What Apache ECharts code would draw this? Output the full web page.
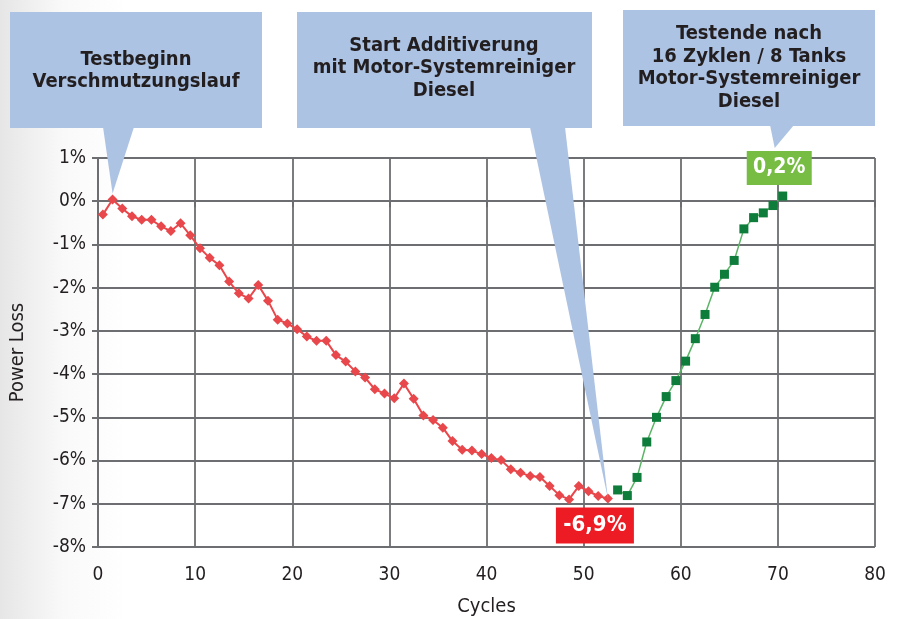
<!DOCTYPE html>
<html><head><meta charset="utf-8">
<script src="https://cdn.jsdelivr.net/npm/echarts@6/dist/echarts.min.js"></script>
<style>html,body{margin:0;padding:0;background:#fff}#c{width:899px;height:619px}</style>
</head><body><div id="c"></div>
<script>
// ---- data ----
const redCycles = [0.5,1.5,2.5,3.5,4.5,5.5,6.5,7.5,8.5,9.5,10.5,11.5,12.5,13.5,14.5,15.5,16.5,17.5,18.5,19.5,20.5,21.5,22.5,23.5,24.5,25.5,26.5,27.5,28.5,29.5,30.5,31.5,32.5,33.5,34.5,35.5,36.5,37.5,38.5,39.5,40.5,41.5,42.5,43.5,44.5,45.5,46.5,47.5,48.5,49.5,50.5,51.5,52.5];
const redLoss = [-0.31,0.04,-0.17,-0.35,-0.43,-0.43,-0.58,-0.69,-0.51,-0.79,-1.09,-1.31,-1.48,-1.86,-2.13,-2.25,-1.94,-2.30,-2.74,-2.83,-2.96,-3.13,-3.23,-3.23,-3.56,-3.71,-3.94,-4.08,-4.35,-4.45,-4.56,-4.22,-4.57,-4.96,-5.06,-5.24,-5.55,-5.75,-5.77,-5.85,-5.94,-5.99,-6.20,-6.28,-6.36,-6.38,-6.59,-6.80,-6.90,-6.59,-6.71,-6.82,-6.88];
const greenCycles = [53.5,54.5,55.5,56.5,57.5,58.5,59.5,60.5,61.5,62.5,63.5,64.5,65.5,66.5,67.5,68.5,69.5,70.5];
const greenLoss = [-6.68,-6.81,-6.39,-5.57,-5.00,-4.52,-4.15,-3.70,-3.18,-2.62,-1.99,-1.69,-1.37,-0.64,-0.38,-0.27,-0.10,0.12];
const xTitle = 'Cycles';
const yTitle = 'Power Loss';
const callout1 = 'Testbeginn\nVerschmutzungslauf';
const callout2 = 'Start Additiverung\nmit Motor-Systemreiniger\nDiesel';
const callout3 = 'Testende nach\n16 Zyklen / 8 Tanks\nMotor-Systemreiniger\nDiesel';
const minLabel = '-6,9%';
const endLabel = '0,2%';

// ---- chart ----
const FONT = '"DejaVu Sans Condensed", "Roboto", "DejaVu Sans", sans-serif';
const GRAY = '#6d6e71';
const INK = '#231f20';
const chart = echarts.init(document.getElementById('c'));
const zip = (xs, ys) => xs.map((x, i) => [x, ys[i]]);

chart.setOption({
  animation: false,
  backgroundColor: {type:'linear', x:0, y:0, x2:1, y2:0,
    colorStops:[{offset:0,color:'#e6e6e6'},{offset:0.07,color:'#f9f9f9'},{offset:0.14,color:'#ffffff'},{offset:1,color:'#ffffff'}]},
  grid: {left: 98, right: 24, top: 158, bottom: 72, containLabel: false, outerBoundsMode: 'none'},
  xAxis: {
    type: 'value', min: 0, max: 80, interval: 10,
    name: xTitle, nameLocation: 'middle', nameGap: 50,
    nameTextStyle: {fontSize: 20, color: INK, fontFamily: FONT},
    axisLine: {show: true, lineStyle: {color: GRAY, width: 2}},
    axisTick: {show: true, length: 6, lineStyle: {color: GRAY, width: 2}},
    axisLabel: {fontSize: 19, color: INK, margin: 19, fontFamily: FONT},
    splitLine: {show: true, lineStyle: {color: GRAY, width: 1.8}}
  },
  yAxis: {
    type: 'value', min: -8, max: 1, interval: 1,
    name: yTitle, nameLocation: 'middle', nameGap: 70, nameRotate: 90,
    nameTextStyle: {fontSize: 20, color: INK, fontFamily: FONT},
    axisLine: {show: true, onZero: false, lineStyle: {color: GRAY, width: 2}},
    axisTick: {show: true, length: 6, lineStyle: {color: GRAY, width: 2}},
    axisLabel: {fontSize: 19, color: INK, margin: 12, fontFamily: FONT, formatter: v => v + '%'},
    splitLine: {show: true, lineStyle: {color: GRAY, width: 1.8}}
  },
  series: [
    {type: 'line', data: zip(redCycles, redLoss), symbol: 'diamond', symbolSize: 10,
     lineStyle: {color: '#e8474b', width: 2}, itemStyle: {color: '#e8474b'}, z: 3},
    {type: 'line', data: zip(greenCycles, greenLoss), symbol: 'rect', symbolSize: 9,
     lineStyle: {color: '#5cb567', width: 1.5}, itemStyle: {color: '#0e7d3b'}, z: 3}
  ]
});

// ---- annotations anchored on data points ----
const px = (x, y) => chart.convertToPixel({gridIndex: 0}, [x, y]);
const pStart = px(redCycles[1], redLoss[1]);
const pMin = px(redCycles[redCycles.length - 1], redLoss[redLoss.length - 1]);
const pEnd = px(greenCycles[greenCycles.length - 1], greenLoss[greenLoss.length - 1]);
const BLUE = '#adc3e4';
const boxText = (cx, cy, txt) => ({type: 'text', x: cx, y: cy, z: 20,
  style: {text: txt, fill: INK, fontSize: 20, fontWeight: 'bold', fontFamily: FONT,
          lineHeight: 22.5, align: 'center', verticalAlign: 'middle'}});
const rect = (x, y, w, h, color) => ({type: 'rect', z: 10, shape: {x, y, width: w, height: h}, style: {fill: color}});
const poly = (pts, color) => ({type: 'polygon', z: 10, shape: {points: pts}, style: {fill: color}});

// label boxes
const redBox = {x: pMin[0] - 52, y: pMin[1] + 9, w: 78, h: 36};
const grnBox = {x: pEnd[0] - 36, y: pEnd[1] - 45, w: 65, h: 34};

chart.setOption({
  graphic: [
    rect(10, 12, 252, 116, BLUE),
    poly([[103, 127], [134, 127], [pStart[0], pStart[1] - 6]], BLUE),
    boxText(136, 71, callout1),

    rect(297, 12, 295, 116, BLUE),
    poly([[530, 127], [565, 127], [pMin[0], pMin[1]]], BLUE),
    boxText(444, 68, callout2),

    rect(623, 10, 252, 116, BLUE),
    poly([[770, 125], [794, 125], [grnBox.x + 28, grnBox.y - 3]], BLUE),
    boxText(749, 68, callout3),

    rect(redBox.x, redBox.y, redBox.w, redBox.h, '#ed1c24'),
    {type: 'text', z: 21, x: redBox.x + redBox.w / 2, y: redBox.y + redBox.h / 2,
     style: {text: minLabel, fill: '#fff', fontSize: 22, fontWeight: 'bold', fontFamily: FONT, align: 'center', verticalAlign: 'middle'}},
    rect(grnBox.x, grnBox.y, grnBox.w, grnBox.h, '#77bd44'),
    {type: 'text', z: 21, x: grnBox.x + grnBox.w / 2, y: grnBox.y + grnBox.h / 2,
     style: {text: endLabel, fill: '#fff', fontSize: 21, fontWeight: 'bold', fontFamily: FONT, align: 'center', verticalAlign: 'middle'}}
  ]
});
</script></body></html>
